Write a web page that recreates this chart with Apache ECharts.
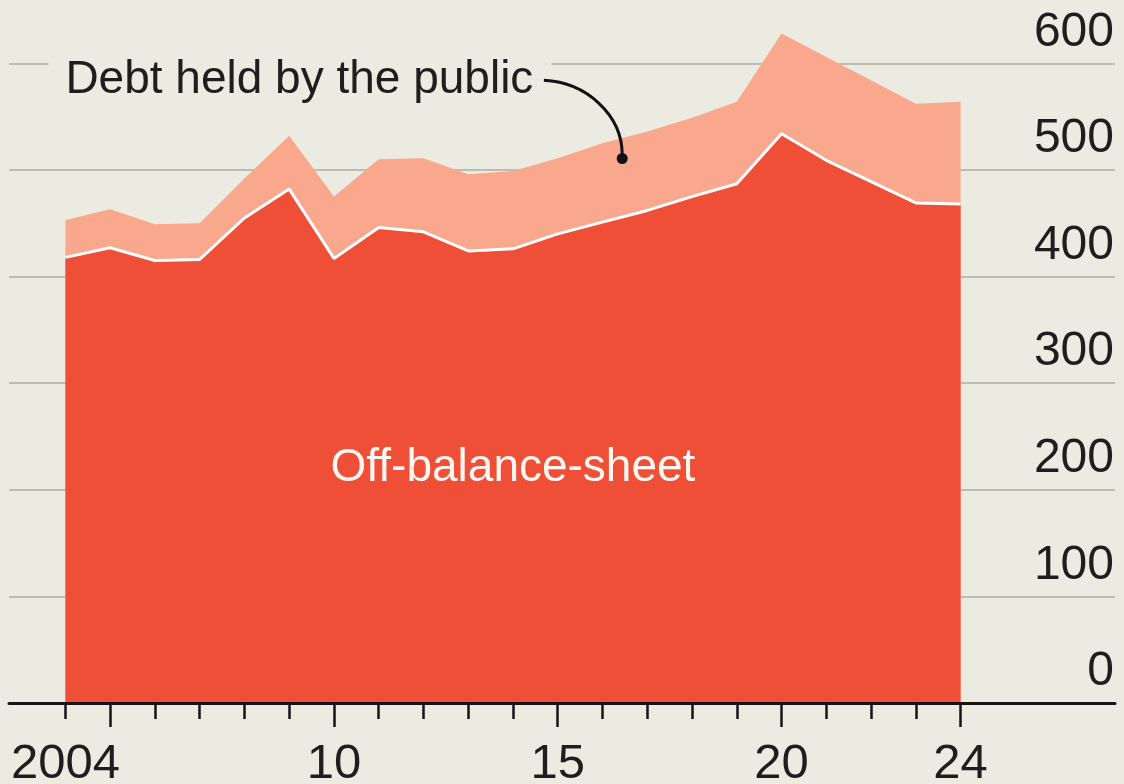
<!DOCTYPE html>
<html>
<head>
<meta charset="utf-8">
<script src="https://cdn.jsdelivr.net/npm/echarts@6/dist/echarts.min.js"></script>
<style>
  html, body { margin: 0; padding: 0; background: #ECEBE1; }
  #chart { width: 1124px; height: 784px; }
</style>
</head>
<body>
<div id="chart"></div>
<script>
// Annual values, 2004-2024
const years = [2004, 2005, 2006, 2007, 2008, 2009, 2010, 2011, 2012, 2013, 2014,
               2015, 2016, 2017, 2018, 2019, 2020, 2021, 2022, 2023, 2024];
const offBalanceSheet = [418, 427, 415, 416, 455, 482, 417, 446, 442, 424, 426,
                         440, 451, 462, 475, 487, 534, 509, 489, 469, 468];
const debtHeldByPublic = [35, 36, 34, 34, 37, 50, 58, 64, 69, 72, 73,
                          71, 74, 74, 74, 77, 94, 97, 95, 93, 96];

// Axis ticks and labels
const yTicks = [0, 100, 200, 300, 400, 500, 600];
const xLabelYears = [2004, 2010, 2015, 2020, 2024];
const majorTickYears = [2005, 2010, 2015, 2020, 2024];

const FONT = '"Liberation Sans", Arial, sans-serif';
const BG = '#ECEBE1';
const INK = '#1E1E1E';
const X_MIN = 2002.74;
const X_MAX = 2027.45;

// Top band sits on the off-balance-sheet layer: its upper edge is the sum of both
const totalDebt = offBalanceSheet.map((v, i) => v + debtHeldByPublic[i]);

const chart = echarts.init(document.getElementById('chart'), null, { renderer: 'canvas' });

chart.setOption({
  backgroundColor: BG,
  animation: false,
  grid: { left: 9, right: 9, top: 63.3, bottom: 81, containLabel: false, outerBoundsMode: 'none' },
  xAxis: [
    {
      type: 'value', min: X_MIN, max: X_MAX, position: 'bottom', z: 10,
      splitLine: { show: false },
      axisLine: { show: true, lineStyle: { color: '#151515', width: 3 } },
      axisTick: { show: true, customValues: years, length: 16, lineStyle: { color: '#151515', width: 2.5 } },
      axisLabel: {
        show: true, customValues: xLabelYears, margin: 37,
        fontFamily: FONT, fontSize: 49, color: INK,
        formatter: v => (v === 2004 ? '2004' : String(v).slice(2))
      }
    },
    {
      type: 'value', min: X_MIN, max: X_MAX, position: 'bottom', z: 10,
      splitLine: { show: false },
      axisLine: { show: false },
      axisTick: { show: true, customValues: majorTickYears, length: 24, lineStyle: { color: '#151515', width: 2.5 } },
      axisLabel: { show: false }
    }
  ],
  yAxis: {
    type: 'value', min: yTicks[0], max: yTicks[yTicks.length - 1], interval: 100,
    position: 'right', z: 0,
    axisLine: { show: false },
    axisTick: { show: false },
    splitLine: { show: true, lineStyle: { color: '#BDBCB3', width: 2 } },
    axisLabel: {
      inside: true, margin: 1, fontFamily: FONT, fontSize: 48, color: INK,
      verticalAlign: 'bottom', lineHeight: 62
    }
  },
  series: [
    {
      name: 'Debt held by the public', type: 'line',
      xAxisIndex: 0, yAxisIndex: 0, clip: false,
      data: years.map((y, i) => [y, totalDebt[i]]),
      symbol: 'none', z: 2,
      lineStyle: { width: 0, opacity: 0 },
      areaStyle: { color: '#F9A88D', opacity: 1 }
    },
    {
      name: 'Off-balance-sheet', type: 'line',
      xAxisIndex: 0, yAxisIndex: 0, clip: false,
      data: years.map((y, i) => [y, offBalanceSheet[i]]),
      symbol: 'none', z: 3,
      lineStyle: { color: '#FFFFFF', width: 3 },
      areaStyle: { color: '#F04F37', opacity: 1 }
    }
  ]
});

// Annotations, anchored in data coordinates
const px = (x, y) => chart.convertToPixel({ xAxisIndex: 0, yAxisIndex: 0 }, [x, y]);
const labelAnchor = px(2004, 584);
const leaderStart = px(2014.69, 584);
const leaderEnd = px(2016.44, 510.7);
const insideLabel = px(2014.0, 220);
const dx = leaderEnd[0] - leaderStart[0];
const dy = leaderEnd[1] - leaderStart[1];

chart.setOption({
  graphic: [
    {
      type: 'text', z: 5,
      style: {
        text: 'Debt held by the public',
        x: labelAnchor[0] - 17, y: labelAnchor[1],
        font: '46px ' + FONT, fill: INK,
        align: 'left', verticalAlign: 'middle',
        backgroundColor: BG, padding: [6, 18, 6, 17]
      }
    },
    {
      type: 'bezierCurve', z: 5,
      shape: {
        x1: leaderStart[0], y1: leaderStart[1],
        cpx1: leaderStart[0] + dx * 0.55, cpy1: leaderStart[1] + 2,
        cpx2: leaderEnd[0], cpy2: leaderEnd[1] - dy * 0.55,
        x2: leaderEnd[0], y2: leaderEnd[1] - 4
      },
      style: { stroke: '#111111', lineWidth: 3, fill: null }
    },
    {
      type: 'circle', z: 5,
      shape: { cx: leaderEnd[0], cy: leaderEnd[1], r: 5.5 },
      style: { fill: '#111111' }
    },
    {
      type: 'text', z: 5,
      style: {
        text: 'Off-balance-sheet',
        x: insideLabel[0], y: insideLabel[1],
        font: '46px ' + FONT, fill: '#FFF8F2',
        align: 'center', verticalAlign: 'middle'
      }
    }
  ]
});
</script>
</body>
</html>
